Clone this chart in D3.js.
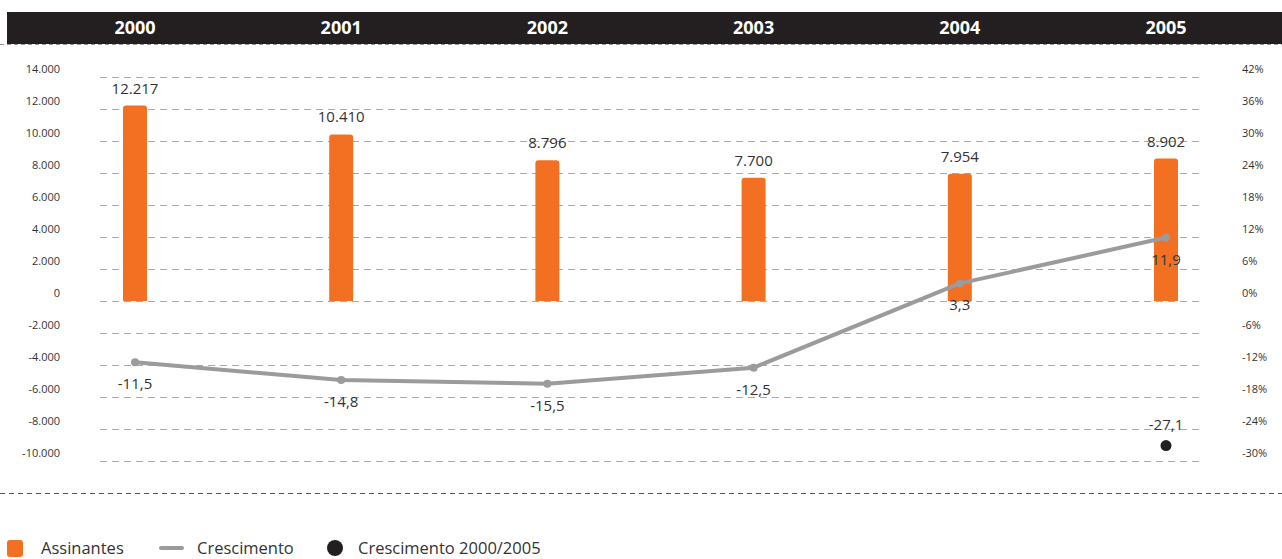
<!DOCTYPE html>
<html>
<head>
<meta charset="utf-8">
<script src="https://cdn.jsdelivr.net/npm/d3@7"></script>
<style>
  html, body { margin: 0; padding: 0; background: #fff; }
  svg { display: block; font-family: "Open Sans", sans-serif; }
</style>
</head>
<body>
<svg id="chart" width="1282" height="559"></svg>
<script>
// dados
const years = ['2000', '2001', '2002', '2003', '2004', '2005'];
const assinantes = [12217, 10410, 8796, 7700, 7954, 8902];
const crescimento = [-11.5, -14.8, -15.5, -12.5, 3.3, 11.9];
const crescTotal = [{ year: '2005', v: -27.1 }];
const leftTicks = [14000, 12000, 10000, 8000, 6000, 4000, 2000, 0, -2000, -4000, -6000, -8000, -10000];
const rightTicks = [42, 36, 30, 24, 18, 12, 6, 0, -6, -12, -18, -24, -30];

const W = 1282, H = 559;
const ORANGE = '#f37022', GREY = '#9b9b9c', INK = '#231f20', TXT = '#333';
const loc = d3.formatLocale({ decimal: ',', thousands: '.', grouping: [3], currency: ['R$', ''], minus: '-' });
const fInt = loc.format(',d'), fDec = loc.format('.1f');

const svg = d3.select('#chart');
const x = d3.scalePoint().domain(years).range([135, 1166]);
const yL = d3.scaleLinear().domain([-10000, 14000]).range([461, 77]);
const yR = d3.scaleLinear().domain([-30, 42]).range([461, 77]);

// faixa dos anos
svg.append('rect').attr('x', 7).attr('y', 12).attr('width', W - 7).attr('height', 32).attr('fill', INK);
svg.selectAll('text.yr').data(years).join('text').attr('class', 'yr')
  .attr('x', d => x(d)).attr('y', 34).attr('text-anchor', 'middle')
  .attr('fill', '#fff').attr('font-size', 18).attr('font-weight', 700).text(d => d);
svg.append('line').attr('x1', 0).attr('x2', W).attr('y1', 44.5).attr('y2', 44.5)
  .attr('stroke', '#999').attr('stroke-dasharray', '4,3');

// grade
svg.selectAll('line.grid').data(leftTicks).join('line').attr('class', 'grid')
  .attr('x1', 100).attr('x2', 1204).attr('y1', d => Math.round(yL(d)) + 0.5).attr('y2', d => Math.round(yL(d)) + 0.5)
  .attr('stroke', '#aaa').attr('stroke-width', 1.2).attr('stroke-dasharray', '7,5');

svg.selectAll('text.lt').data(leftTicks).join('text').attr('class', 'lt')
  .attr('x', 60).attr('y', d => yL(d) - 4).attr('text-anchor', 'end')
  .attr('font-size', 11).attr('fill', TXT).text(d => fInt(d));
svg.selectAll('text.rt').data(rightTicks).join('text').attr('class', 'rt')
  .attr('x', 1242).attr('y', d => yR(d) - 4)
  .attr('font-size', 11).attr('fill', TXT).text(d => d + '%');

// barras
const bw = 24, r = 3;
svg.selectAll('path.bar').data(years).join('path').attr('class', 'bar')
  .attr('fill', ORANGE)
  .attr('d', (d, i) => {
    const x0 = x(d) - bw / 2, y0 = yL(assinantes[i]), y1 = yL(0);
    return `M${x0},${y1}V${y0 + r}Q${x0},${y0} ${x0 + r},${y0}H${x0 + bw - r}Q${x0 + bw},${y0} ${x0 + bw},${y0 + r}V${y1}Z`;
  });
svg.selectAll('text.bv').data(years).join('text').attr('class', 'bv')
  .attr('x', d => x(d)).attr('y', (d, i) => yL(assinantes[i]) - 12).attr('text-anchor', 'middle')
  .attr('font-size', 15).attr('fill', TXT).text((d, i) => fInt(assinantes[i]));

// linha de crescimento
const pts = years.map((d, i) => [x(d), yR(crescimento[i])]);
svg.append('path').attr('d', d3.line()(pts)).attr('fill', 'none')
  .attr('stroke', GREY).attr('stroke-width', 4).attr('stroke-linejoin', 'round');
svg.selectAll('circle.pt').data(pts).join('circle').attr('class', 'pt')
  .attr('cx', d => d[0]).attr('cy', d => d[1]).attr('r', 4).attr('fill', GREY);
svg.selectAll('text.gv').data(years).join('text').attr('class', 'gv')
  .attr('x', d => x(d)).attr('y', (d, i) => yR(crescimento[i]) + 27).attr('text-anchor', 'middle')
  .attr('font-size', 15).attr('fill', TXT).text((d, i) => fDec(crescimento[i]));

// crescimento 2000/2005
svg.selectAll('circle.tot').data(crescTotal).join('circle').attr('class', 'tot')
  .attr('cx', d => x(d.year)).attr('cy', d => yR(d.v)).attr('r', 5.5).attr('fill', INK);
svg.selectAll('text.tot').data(crescTotal).join('text').attr('class', 'tot')
  .attr('x', d => x(d.year)).attr('y', d => yR(d.v) - 16).attr('text-anchor', 'middle')
  .attr('font-size', 15).attr('fill', TXT).text(d => fDec(d.v));

// linha inferior
svg.append('line').attr('x1', 0).attr('x2', W).attr('y1', 493.5).attr('y2', 493.5)
  .attr('stroke', '#555').attr('stroke-dasharray', '5,4');

// legenda
const lg = svg.append('g').attr('font-size', 16.5).attr('fill', TXT);
lg.append('rect').attr('x', 7).attr('y', 540).attr('width', 16).attr('height', 17).attr('rx', 3).attr('fill', ORANGE);
lg.append('text').attr('x', 41).attr('y', 554).text('Assinantes');
lg.append('line').attr('x1', 161).attr('x2', 182).attr('y1', 548).attr('y2', 548)
  .attr('stroke', GREY).attr('stroke-width', 4).attr('stroke-linecap', 'round');
lg.append('text').attr('x', 197).attr('y', 554).text('Crescimento');
lg.append('circle').attr('cx', 335).attr('cy', 548).attr('r', 8).attr('fill', INK);
lg.append('text').attr('x', 358).attr('y', 554).text('Crescimento 2000/2005');
</script>
</body>
</html>
